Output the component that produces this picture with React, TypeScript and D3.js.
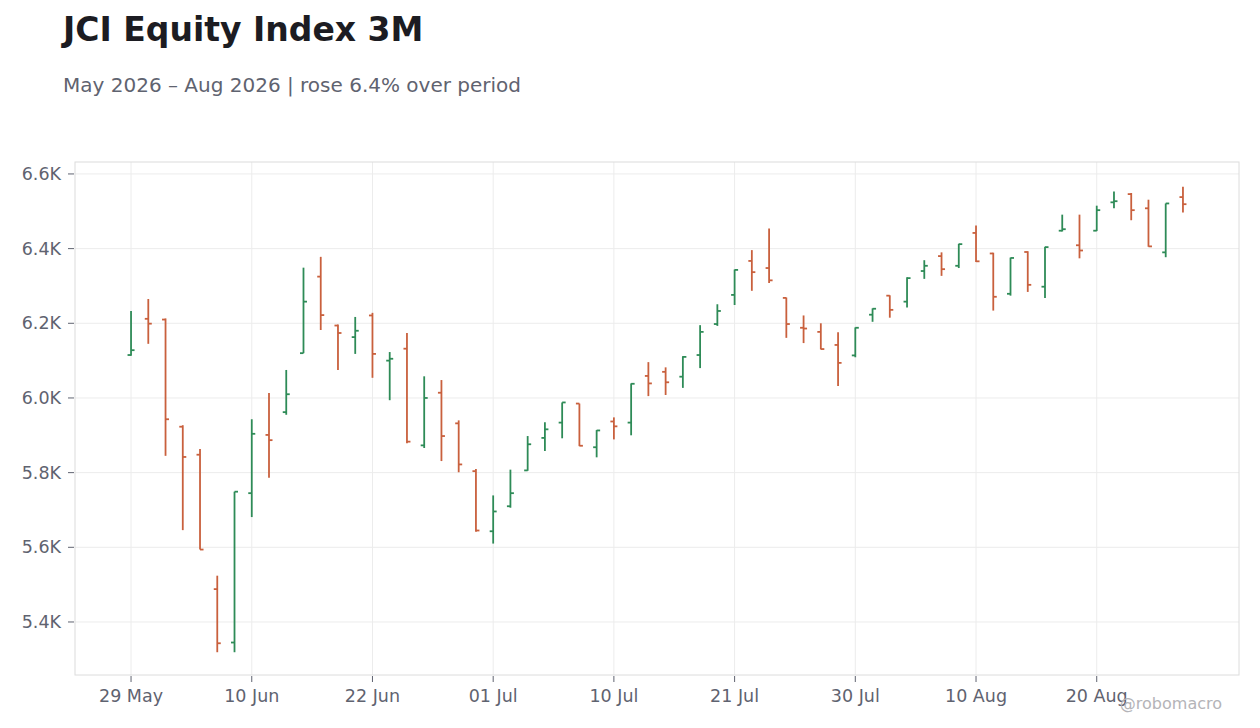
import * as d3 from "d3";

// trading days (IDX calendar, holidays skipped)
const dates = [
  "2026-05-29", "2026-06-02", "2026-06-03", "2026-06-04", "2026-06-05", "2026-06-08",
  "2026-06-09", "2026-06-10", "2026-06-11", "2026-06-12", "2026-06-15", "2026-06-17",
  "2026-06-18", "2026-06-19", "2026-06-22", "2026-06-23", "2026-06-24", "2026-06-25",
  "2026-06-26", "2026-06-29", "2026-06-30", "2026-07-01", "2026-07-02", "2026-07-03",
  "2026-07-06", "2026-07-07", "2026-07-08", "2026-07-09", "2026-07-10", "2026-07-13",
  "2026-07-14", "2026-07-15", "2026-07-16", "2026-07-17", "2026-07-20", "2026-07-21",
  "2026-07-22", "2026-07-23", "2026-07-24", "2026-07-27", "2026-07-28", "2026-07-29",
  "2026-07-30", "2026-07-31", "2026-08-03", "2026-08-04", "2026-08-05", "2026-08-06",
  "2026-08-07", "2026-08-10", "2026-08-11", "2026-08-12", "2026-08-13", "2026-08-14",
  "2026-08-18", "2026-08-19", "2026-08-20", "2026-08-21", "2026-08-24", "2026-08-25",
  "2026-08-26", "2026-08-27",
];

const open = [
  6115, 6212, 6210, 5923, 5848, 5488, 5345, 5745, 5901, 5962,
  6120, 6325, 6194, 6163, 6221, 6100, 6132, 5873, 6014, 5932,
  5804, 5643, 5710, 5806, 5893, 5934, 5985, 5868, 5937, 5934,
  6059, 6070, 6057, 6115, 6198, 6276, 6367, 6348, 6268, 6188,
  6177, 6142, 6114, 6223, 6274, 6258, 6340, 6380, 6354, 6442,
  6387, 6279, 6391, 6298, 6448, 6409, 6448, 6524, 6546, 6508,
  6390, 6538,
];
const high = [
  6233, 6265, 6213, 5927, 5863, 5524, 5749, 5943, 6013, 6075,
  6349, 6378, 6197, 6217, 6228, 6123, 6174, 6058, 6048, 5940,
  5810, 5739, 5808, 5898, 5935, 5988, 5985, 5914, 5948, 6039,
  6096, 6082, 6112, 6195, 6251, 6344, 6396, 6454, 6269, 6221,
  6200, 6176, 6189, 6240, 6275, 6323, 6369, 6390, 6413, 6462,
  6389, 6376, 6393, 6405, 6491, 6491, 6515, 6553, 6549, 6531,
  6521, 6566,
];
const low = [
  6113, 6145, 5845, 5646, 5594, 5319, 5319, 5681, 5786, 5955,
  6120, 6182, 6075, 6118, 6054, 5994, 5879, 5866, 5831, 5801,
  5642, 5610, 5706, 5805, 5858, 5892, 5871, 5841, 5889, 5900,
  6005, 6008, 6027, 6080, 6193, 6249, 6287, 6308, 6161, 6147,
  6130, 6032, 6109, 6204, 6215, 6242, 6319, 6327, 6348, 6364,
  6234, 6274, 6284, 6268, 6446, 6374, 6447, 6508, 6476, 6405,
  6377, 6497,
];
const close = [
  6128, 6199, 5943, 5842, 5594, 5343, 5749, 5904, 5887, 6010,
  6258, 6222, 6174, 6180, 6118, 6105, 5883, 6000, 5898, 5822,
  5645, 5696, 5745, 5876, 5916, 5988, 5872, 5913, 5924, 6038,
  6039, 6042, 6110, 6177, 6233, 6343, 6337, 6315, 6198, 6186,
  6131, 6094, 6188, 6239, 6236, 6321, 6354, 6345, 6412, 6366,
  6271, 6375, 6303, 6404, 6452, 6395, 6503, 6527, 6503, 6406,
  6521, 6519,
];

const yTicks = [5400, 5600, 5800, 6000, 6200, 6400, 6600];
const xTickEvery = 7;

const title = "JCI Equity Index 3M";
const subtitle = "May 2026 – Aug 2026 | rose 6.4% over period";
const credit = "@robomacro";

const UP = "#2e8b57";
const DOWN = "#c9603d";
const TEXT = "#5f6370";
const FONT = "'DejaVu Sans', sans-serif";

export default function App() {
  const width = 1260;
  const height = 728;
  const left = 75;
  const right = 1239;
  const top = 162;
  const bottom = 675;

  const parse = d3.timeParse("%Y-%m-%d");
  const fmt = d3.timeFormat("%d %b");

  const x = d3
    .scaleLinear()
    .domain([-3.25, dates.length - 1 + 3.25])
    .range([left, right]);

  const y = d3.scaleLinear().domain([5258, 6632]).range([bottom, top]);

  const xTicks = d3.range(0, dates.length, xTickEvery);
  const tick = 3.5;

  return (
    <svg
      width={width}
      height={height}
      style={{ position: "absolute", left: 0, top: 0, fontFamily: FONT }}
    >
      <rect width={width} height={height} fill="#fff" />

      <text x={63} y={41} fontSize={33} fontWeight="bold" fill="#1c1c22">
        {title}
      </text>
      <text x={63} y={92} fontSize={20} fill={TEXT}>
        {subtitle}
      </text>

      {/* grid */}
      <g stroke="#ececec" strokeWidth={1}>
        {yTicks.map((t) => (
          <line key={t} x1={left} x2={right} y1={y(t)} y2={y(t)} />
        ))}
        {xTicks.map((i) => (
          <line key={i} x1={x(i)} x2={x(i)} y1={top} y2={bottom} />
        ))}
      </g>
      <rect
        x={left}
        y={top}
        width={right - left}
        height={bottom - top}
        fill="none"
        stroke="#dcdcdc"
      />

      {/* y axis */}
      <g fontSize={17.5} fill={TEXT}>
        {yTicks.map((t) => (
          <g key={t}>
            <line x1={left - 7} x2={left - 1} y1={y(t)} y2={y(t)} stroke={TEXT} />
            <text x={left - 14} y={y(t)} dy="0.35em" textAnchor="end">
              {(t / 1000).toFixed(1) + "K"}
            </text>
          </g>
        ))}
      </g>

      {/* x axis */}
      <g fontSize={17.5} fill={TEXT}>
        {xTicks.map((i) => (
          <g key={i}>
            <line x1={x(i)} x2={x(i)} y1={bottom + 1} y2={bottom + 7} stroke={TEXT} />
            <text x={x(i)} y={702} textAnchor="middle">
              {fmt(parse(dates[i])!)}
            </text>
          </g>
        ))}
      </g>

      {/* OHLC bars */}
      <g strokeWidth={1.8} fill="none">
        {dates.map((d, i) => {
          const cx = x(i);
          const c = close[i] >= open[i] ? UP : DOWN;
          return (
            <g key={d} stroke={c}>
              <line x1={cx} x2={cx} y1={y(high[i])} y2={y(low[i])} />
              <line x1={cx - tick} x2={cx} y1={y(open[i])} y2={y(open[i])} />
              <line x1={cx} x2={cx + tick} y1={y(close[i])} y2={y(close[i])} />
            </g>
          );
        })}
      </g>

      <text x={1222} y={709} fontSize={16} fill="#b4b4b8" textAnchor="end">
        {credit}
      </text>
    </svg>
  );
}
